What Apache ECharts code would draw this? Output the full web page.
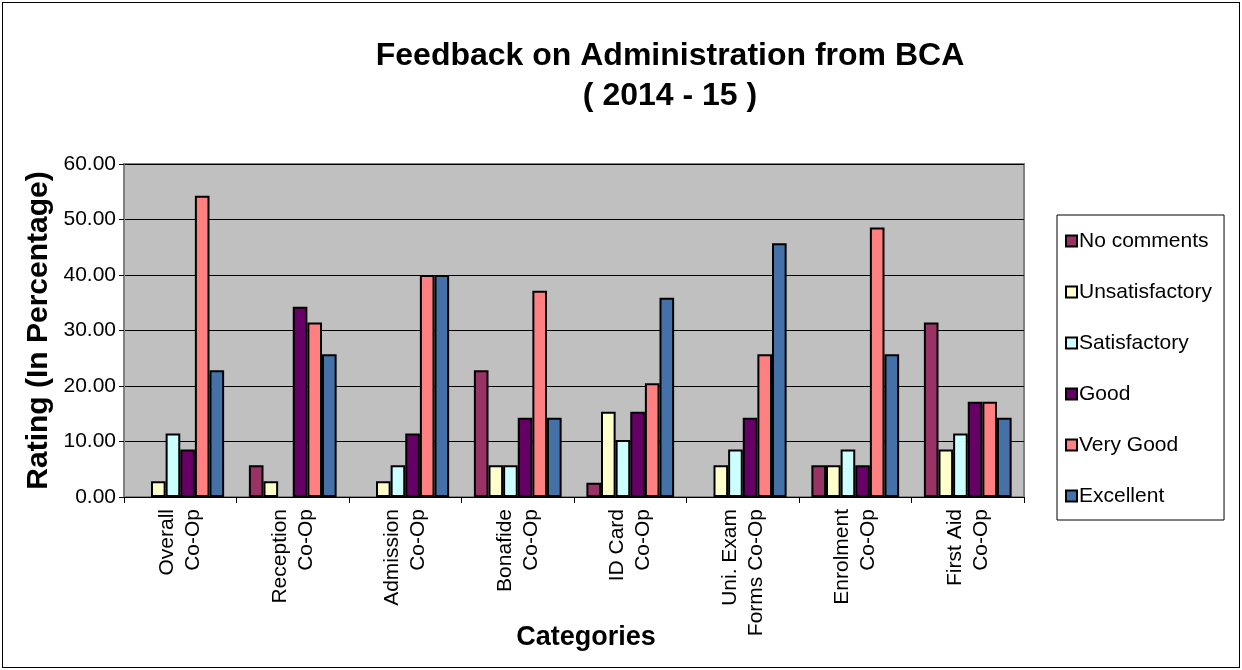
<!DOCTYPE html>
<html>
<head>
<meta charset="utf-8">
<script src="https://cdn.jsdelivr.net/npm/echarts@6/dist/echarts.min.js"></script>
<style>
  html, body { margin: 0; padding: 0; background: #fff; }
  #main { position: absolute; left: 2px; top: 2px; width: 1236px; height: 664px; border: 1px solid #000; }
</style>
</head>
<body>
<div id="main"></div>
<script>
// data
const categories = ['Overall\nCo-Op', 'Reception\nCo-Op', 'Admission\nCo-Op', 'Bonafide\nCo-Op',
  'ID Card\nCo-Op', 'Uni. Exam\nForms Co-Op', 'Enrolment\nCo-Op', 'First Aid\nCo-Op'];
const noComments     = [0, 5.71, 0, 22.86, 2.56, 0, 5.71, 31.43];
const unsatisfactory = [2.86, 2.86, 2.86, 5.71, 15.38, 5.71, 5.71, 8.57];
const satisfactory   = [11.43, 0, 5.71, 5.71, 10.26, 8.57, 8.57, 11.43];
const good           = [8.57, 34.29, 11.43, 14.29, 15.38, 14.29, 5.71, 17.14];
const veryGood       = [54.29, 31.43, 40, 37.14, 20.51, 25.71, 48.57, 17.14];
const excellent      = [22.86, 25.71, 40, 14.29, 35.9, 45.71, 25.71, 14.29];

const seriesDefs = [
  { name: 'No comments', data: noComments, color: '#993366' },
  { name: 'Unsatisfactory', data: unsatisfactory, color: '#FFFFCC' },
  { name: 'Satisfactory', data: satisfactory, color: '#CCFFFF' },
  { name: 'Good', data: good, color: '#660066' },
  { name: 'Very Good', data: veryGood, color: '#FF8080' },
  { name: 'Excellent', data: excellent, color: '#4472A8' }
];

const myChart = echarts.init(document.getElementById('main'));
const option = {
  animation: false,
  textStyle: { fontFamily: 'Liberation Sans, Arial, sans-serif' },
  title: {
    text: 'Feedback on Administration from BCA\n( 2014 - 15 )',
    left: 667,
    top: 33,
    padding: 0,
    textAlign: 'center',
    textStyle: { fontSize: 32, fontWeight: 'bold', color: '#000', lineHeight: 40 }
  },
  legend: {
    orient: 'vertical',
    left: 1054,
    top: 212,
    padding: [15, 12, 13, 8],
    itemGap: 29,
    itemWidth: 11,
    itemHeight: 11,
    borderColor: '#000',
    borderWidth: 1,
    icon: 'rect',
    textStyle: { fontSize: 21, color: '#000', lineHeight: 22, padding: [0, 0, 0, -3] },
    data: seriesDefs.map(s => s.name)
  },
  grid: {
    left: 121,
    right: 215,
    top: 161,
    bottom: 170,
    outerBoundsMode: 'none',
    containLabel: false,
    show: true,
    backgroundColor: '#C0C0C0',
    borderColor: '#808080',
    borderWidth: 2
  },
  xAxis: {
    type: 'category',
    data: categories,
    name: 'Categories',
    nameLocation: 'middle',
    nameGap: 127,
    nameMoveOverlap: false,
    nameTextStyle: { fontSize: 27, fontWeight: 'bold', color: '#000', padding: [0, 0, 0, 24] },
    axisLine: { lineStyle: { color: '#000', width: 1 } },
    axisTick: { show: true, length: 6, lineStyle: { color: '#000' } },
    axisLabel: { rotate: 90, fontSize: 21, color: '#000', lineHeight: 26, margin: 12 }
  },
  yAxis: {
    type: 'value',
    min: 0,
    max: 60,
    interval: 10,
    name: 'Rating (In Percentage)',
    nameLocation: 'middle',
    nameGap: 70,
    nameMoveOverlap: false,
    nameTextStyle: { fontSize: 30, fontWeight: 'bold', color: '#000' },
    axisLine: { show: true, lineStyle: { color: '#808080', width: 2 } },
    axisTick: { show: true, length: 5, lineStyle: { color: '#000' } },
    axisLabel: { fontSize: 21, color: '#000', margin: 8, formatter: v => v.toFixed(2) },
    splitLine: { lineStyle: { color: '#000', width: 1 } }
  },
  series: seriesDefs.map(s => ({
    name: s.name,
    type: 'bar',
    // zero-height bars get no outline, like the original
    data: s.data.map(v => (v === 0 ? { value: 0, itemStyle: { borderWidth: 0 } } : v)),
    barGap: '0%',
    barCategoryGap: '22%',
    itemStyle: { color: s.color, borderColor: '#000', borderWidth: 2 }
  }))
};
myChart.setOption(option);
</script>
</body>
</html>
